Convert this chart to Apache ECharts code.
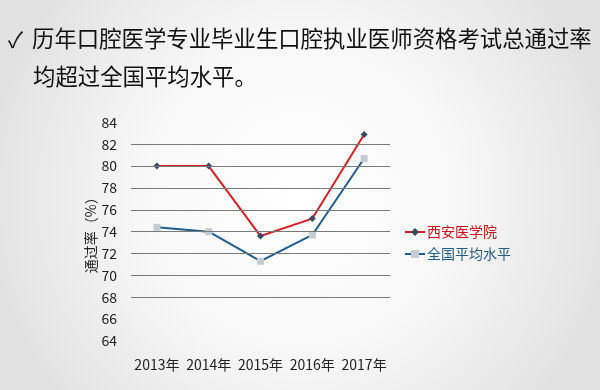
<!DOCTYPE html>
<html><head><meta charset="utf-8">
<script src="https://cdn.jsdelivr.net/npm/echarts@6/dist/echarts.min.js"></script>
<style>html,body{margin:0;padding:0;}#c{width:600px;height:390px;}</style>
</head><body><div id="c"></div>
<script>
const categories = ['2013年','2014年','2015年','2016年','2017年'];
const xianValues = [80.0, 80.0, 73.6, 75.2, 82.9];
const nationalValues = [74.4, 74.0, 71.3, 73.7, 80.7];
const gridLineValues = [68, 70, 72, 74, 76, 78, 80, 82];
const seriesNames = ['西安医学院', '全国平均水平'];
const checkMark = '✓';
const titleLine1 = '历年口腔医学专业毕业生口腔执业医师资格考试总通过率';
const titleLine2 = '均超过全国平均水平。';

const chart = echarts.init(document.getElementById('c'));
const font = '"Noto Sans CJK SC", "Liberation Sans", sans-serif';
chart.setOption({
  backgroundColor: {type:'radial', x:0.5, y:0.5, r:0.8, colorStops:[{offset:0,color:'#ffffff'},{offset:0.5,color:'#f8f8f8'},{offset:1,color:'#e2e2e2'}]},
  animation: false,
  graphic: [
    {type:'text', left: 8, top: 29, style:{text:checkMark, font:'22px '+font, fill:'#111'}},
    {type:'text', left: 32, top: 27, style:{text:titleLine1, font:'22.4px '+font, fill:'#111'}},
    {type:'text', left: 33, top: 65, style:{text:titleLine2, font:'22.4px '+font, fill:'#111'}}
  ],
  grid: {left: 131, right: 210, top: 122.4, bottom: 49},
  legend: {
    orient: 'vertical', left: 399, top: 220, itemGap: 8, itemWidth: 20, itemHeight: 10,
    data: [
      {name: seriesNames[0], textStyle:{color:'#c8141e'}},
      {name: seriesNames[1], textStyle:{color:'#1f5c7f'}}
    ],
    textStyle: {fontSize: 14, fontFamily: font, padding:[0,0,0,-3]}
  },
  xAxis: {
    type: 'category', data: categories, boundaryGap: true,
    axisLine:{show:false}, axisTick:{show:false},
    axisLabel:{color:'#222', fontSize:14, fontFamily:font, margin:17, interval:0}
  },
  yAxis: {
    type: 'value', min: 64, max: 84, interval: 2,
    name: '通过率（%）', nameLocation: 'middle', nameGap: 32,
    nameTextStyle:{color:'#222', fontSize:14, fontFamily:font},
    axisLine:{show:false}, axisTick:{show:false}, splitLine:{show:false},
    axisLabel:{color:'#222', fontSize:14, fontFamily:font, margin:14}
  },
  series: [
    {
      name: seriesNames[0], type:'line', data: xianValues,
      symbol:'diamond', symbolSize: 7,
      lineStyle:{color:'#d42126', width:2},
      itemStyle:{color:'#3b4a63'},
      markLine:{silent:true, symbol:'none', label:{show:false},
        lineStyle:{color:'#7a7a7a', width:1, type:'solid'},
        data: gridLineValues.map(v=>({yAxis:v}))},
      z: 3
    },
    {
      name: seriesNames[1], type:'line', data: nationalValues,
      symbol:'rect', symbolSize: 7,
      lineStyle:{color:'#1f5d8c', width:2},
      itemStyle:{color:'#c4cbd3'},
      z: 2
    }
  ]
});
</script></body></html>
